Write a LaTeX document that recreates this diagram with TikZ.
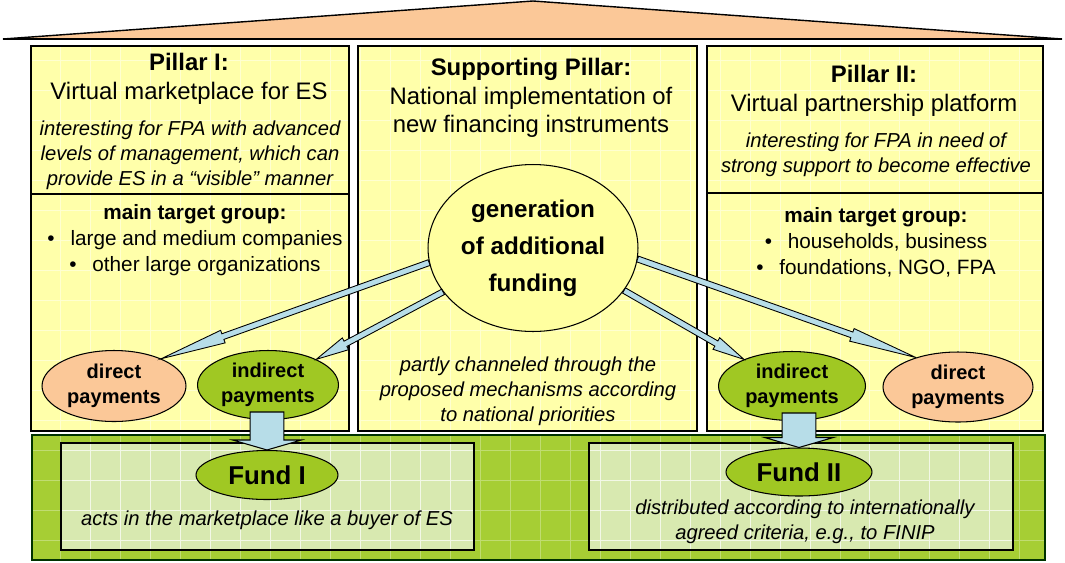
\documentclass[tikz,border=0pt]{standalone}
\usepackage{fontspec}
\setmainfont{Liberation Sans}
\usetikzlibrary{shapes.geometric,calc}

\definecolor{pillarfill}{RGB}{255,255,170}
\definecolor{rooffill}{RGB}{251,200,152}
\definecolor{bandfill}{RGB}{166,206,52}
\definecolor{bandbox}{RGB}{216,233,176}
\definecolor{ovalgreen}{RGB}{160,200,35}
\definecolor{genfill}{RGB}{255,255,160}
\definecolor{arrowblue}{RGB}{183,221,232}

\tikzset{
  roof/.style={draw=black, line width=0.8pt, fill=rooffill},
  pillarline/.style={draw=black, line width=0.85pt},
  gridline/.style={white, opacity=0.45, line width=0.4pt},
  head/.style={align=center, font=\fontsize{13.6}{16.3}\selectfont},
  note/.style={align=center, font=\fontsize{11.5}{14.2}\selectfont\itshape},
  group/.style={align=center, font=\fontsize{11.8}{14.8}\selectfont},
  oval/.style={ellipse, draw=black, line width=0.6pt, inner sep=0pt, align=center},
  slim/.style={draw=black, line width=0.5pt, fill=arrowblue,
    to path={
      ($(\tikztostart)!1.7pt!90:(\tikztotarget)$)
      -- ($($(\tikztostart)!0.77!(\tikztotarget)$)!1.7pt!90:(\tikztotarget)$)
      -- ($($(\tikztostart)!0.77!(\tikztotarget)$)!3.8pt!90:(\tikztotarget)$)
      -- (\tikztotarget)
      -- ($($(\tikztostart)!0.77!(\tikztotarget)$)!3.8pt!-90:(\tikztotarget)$)
      -- ($($(\tikztostart)!0.77!(\tikztotarget)$)!1.7pt!-90:(\tikztotarget)$)
      -- ($(\tikztostart)!1.7pt!-90:(\tikztotarget)$)
      -- cycle}},
  fat/.style={draw=black, line width=0.6pt, fill=arrowblue,
    to path={
      ($(\tikztostart)!9.6pt!90:(\tikztotarget)$)
      -- ($($(\tikztotarget)!5.7pt!(\tikztostart)$)!9.6pt!90:(\tikztotarget)$)
      -- ($($(\tikztotarget)!5.7pt!(\tikztostart)$)!19.6pt!90:(\tikztotarget)$)
      -- (\tikztotarget)
      -- ($($(\tikztotarget)!5.7pt!(\tikztostart)$)!19.6pt!-90:(\tikztotarget)$)
      -- ($($(\tikztotarget)!5.7pt!(\tikztostart)$)!9.6pt!-90:(\tikztotarget)$)
      -- ($(\tikztostart)!9.6pt!-90:(\tikztotarget)$)
      -- cycle}}
}

\begin{document}
\begin{tikzpicture}[x=0.02cm, y=-0.02cm]
\useasboundingbox (0,0) rectangle (1065,562);
% roof
\filldraw[roof] (3,39) -- (533,1) -- (1062,39) -- cycle;
\draw[line width=1.4pt] (3,39) -- (1062,39);
% pillars
\foreach \xa/\xb in {31/349, 358/697, 707/1043} {
  \fill[pillarfill] (\xa,46) rectangle (\xb,431);
  \draw[gridline, step=0.6cm] (\xa,46) grid (\xb,431);
  \draw[pillarline] (\xa,46) rectangle (\xb,431);
}
\draw[pillarline] (31,194) -- (349,194);
\draw[pillarline] (707,193) -- (1043,193);
% funds band
\fill[bandfill] (32,435) rectangle (1045,560);
\draw[gridline, opacity=0.3, step=0.6cm] (32,435) grid (1045,560);
\draw[draw=black!80!green, line width=1.2pt] (32,435) rectangle (1045,560);
\foreach \xa/\xb in {61/474, 589/1013} {
  \fill[bandbox] (\xa,443) rectangle (\xb,550);
  \draw[gridline, opacity=0.7, step=0.6cm] (\xa,443) grid (\xb,550);
  \draw[line width=0.8pt] (\xa,443) rectangle (\xb,550);
}

% texts
\node[head] (p1title) at (189,79) {\textbf{Pillar I:}\\Virtual marketplace for ES};
\node[note] (p1note) at (190,155) {interesting for FPA with advanced\\levels of management, which can\\provide ES in a “visible” manner};
\node[group] (p1group) at (195,240) {\textbf{main target group:}\\\textbullet\hspace{9pt}large and medium companies\\\textbullet\hspace{9pt}other large organizations};

\node[head] (sptitle) at (531,98) {\textbf{Supporting Pillar:}\\National implementation of\\new financing instruments};
\node[note] (spnote) at (528,391) {partly channeled through the\\proposed mechanisms according\\to national priorities};

\node[head] (p2title) at (874,91) {\textbf{Pillar II:}\\Virtual partnership platform};
\node[note] (p2note) at (876,155) {interesting for FPA in need of\\strong support to become effective};
\node[group] (p2group) at (876,242) {\textbf{main target group:}\\\textbullet\hspace{9pt}households, business\\\textbullet\hspace{9pt}foundations, NGO, FPA};

\node[note] (f1note) at (267,520) {acts in the marketplace like a buyer of ES};
\node[note] (f2note) at (805,522) {distributed according to internationally\\agreed criteria, e.g., to FINIP};

% ovals
\node[oval, fill=genfill, minimum width=4.2cm, minimum height=3.34cm,
      font=\fontsize{13.8}{21}\selectfont\bfseries] (gen) at (533,248) {generation\\of additional\\funding};
\begin{scope}[every node/.style={oval, fill=rooffill, font=\fontsize{11.4}{14.2}\selectfont\bfseries}]
\node[minimum width=2.88cm, minimum height=1.42cm] (dl) at (114,386) {direct\\payments};
\node[minimum width=3cm, minimum height=1.4cm] (dr) at (958,387) {direct\\payments};
\end{scope}
\begin{scope}[every node/.style={oval, fill=ovalgreen, font=\fontsize{11.4}{14.2}\selectfont\bfseries}]
\node[minimum width=2.82cm, minimum height=1.38cm] (il) at (268,385) {indirect\\payments};
\node[minimum width=2.94cm, minimum height=1.38cm] (ir) at (792,386) {indirect\\payments};
\end{scope}
\begin{scope}[every node/.style={oval, fill=ovalgreen, font=\fontsize{14.7}{17}\selectfont\bfseries}]
\node[minimum width=2.84cm, minimum height=0.98cm] (f1) at (267,475) {Fund I};
\node[minimum width=2.92cm, minimum height=0.96cm] (f2) at (799,472) {Fund II};
\end{scope}

% connectors
\draw[slim] (gen.188) to (dl.30);
\draw[slim] (gen.206) to (il.28);
\draw[slim] (gen.335) to (ir.151);
\draw[slim] (gen.354) to (dr.145);
\coordinate (t1) at (267,412);
\coordinate (t2) at (799,413);
\draw[fat] (t1) to (f1.north);
\draw[fat] (t2) to (f2.north);
\end{tikzpicture}
\end{document}
